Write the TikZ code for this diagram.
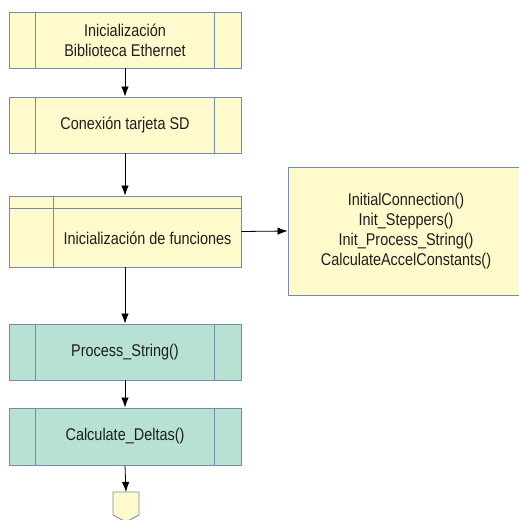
\documentclass[tikz,border=0pt]{standalone}
\usepackage{fontspec}
\setmainfont{Liberation Sans}[FakeStretch=0.85]
\usetikzlibrary{arrows.meta,calc}
\definecolor{procyellow}{RGB}{255,250,204}
\definecolor{procteal}{RGB}{183,225,211}
\definecolor{edgeblue}{RGB}{118,140,170}
\definecolor{inkgray}{RGB}{30,30,30}
% vertical bars of a "predefined process" box
\newcommand\sidebars[1]{%
  \draw[divider] ([xshift=27pt]#1.north west) -- ([xshift=27pt]#1.south west)
                 ([xshift=-27pt]#1.north east) -- ([xshift=-27pt]#1.south east);}
\begin{document}
\begin{tikzpicture}[x=1pt,y=-1pt,
  box/.style={draw=edgeblue, line width=0.9pt, rectangle, inner sep=0pt,
    minimum width=232pt, text=inkgray, font=\fontsize{17}{20}\selectfont, align=center},
  yellowbox/.style={box, fill=procyellow},
  tealbox/.style={box, fill=procteal},
  flow/.style={-{Latex[length=10pt,width=7.5pt]}, line width=0.8pt, black},
  divider/.style={draw=edgeblue, line width=0.9pt},
  label/.style={text=inkgray, font=\fontsize{17}{20}\selectfont, align=center, inner sep=0pt}]
\useasboundingbox (0,0) rectangle (519,520);
\clip (0,0) rectangle (519,520);
\fill[white] (0,0) rectangle (519,520);

% main column
\node[yellowbox, minimum height=56pt] (eth) at (125,40)
  {Inicialización\\Biblioteca Ethernet};
\sidebars{eth}
\node[yellowbox, minimum height=56pt] (sd) at (125,125) {Conexión tarjeta SD};
\sidebars{sd}
\node[yellowbox, minimum height=71pt] (func) at (125,231.5) {};
\draw[divider] ([yshift=-13pt]func.north west) -- ([yshift=-13pt]func.north east)
               ([xshift=45pt]func.north west) -- ([xshift=45pt]func.south west);
\node[label] (functext) at (147.5,238) {Inicialización de funciones};
\node[tealbox, minimum height=56pt] (proc) at (125,352) {Process\_String()};
\sidebars{proc}
\node[tealbox, minimum height=57pt] (delta) at (125,436.5) {Calculate\_Deltas()};
\sidebars{delta}

% side box with the initialised functions
\node[yellowbox, minimum width=236pt, minimum height=128pt] (init) at (406,231)
  {InitialConnection()\\Init\_Steppers()\\Init\_Process\_String()\\CalculateAccelConstants()};

% off-page connector
\coordinate (next) at (126,492);
\draw[divider, fill=procyellow] (113,492) -- (139,492) -- (139,515) -- (126,522)
  -- (113,515) -- cycle;

% connectors
\draw[flow] (eth.south) -- (sd.north);
\draw[flow] (sd.south) -- (func.north);
\draw[flow] (func.east) -- (init.west);
\draw[flow] (func.south) -- (proc.north);
\draw[flow] (proc.south) -- (delta.north);
\draw[flow] (delta.south) -- (next);
\end{tikzpicture}
\end{document}
